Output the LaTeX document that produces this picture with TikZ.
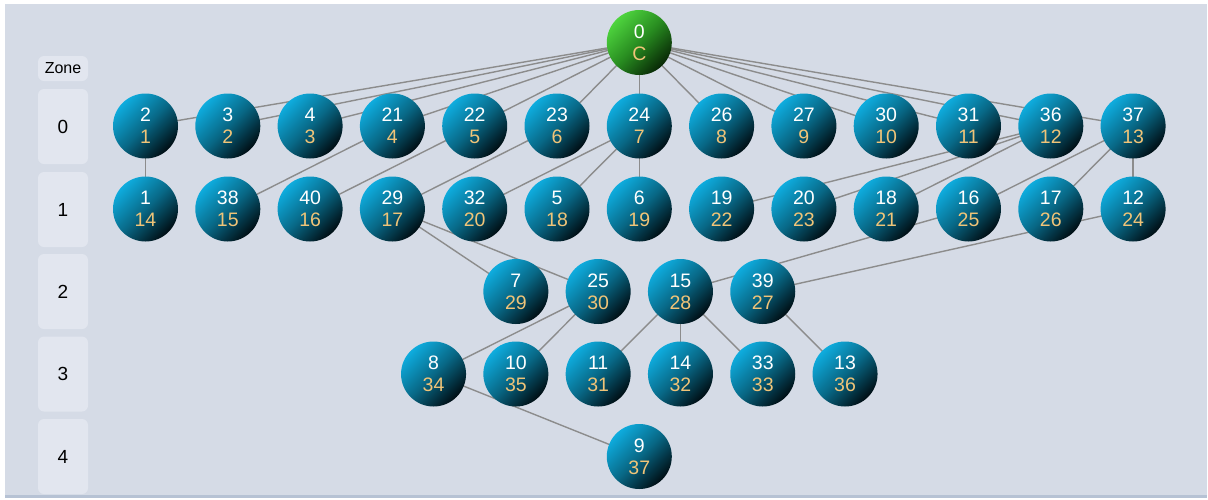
\documentclass[tikz,border=0pt]{standalone}
\usepackage{fontspec}
\setmainfont{Liberation Sans}
\usetikzlibrary{backgrounds}

\definecolor{panelbg}{RGB}{213,219,230}
\definecolor{paneledge}{RGB}{182,194,212}
\definecolor{zonebg}{RGB}{226,230,239}
\definecolor{edgegray}{RGB}{140,140,140}
\definecolor{numorange}{RGB}{240,196,120}
\definecolor{ballhi}{RGB}{14,172,222}
\definecolor{ballmid}{RGB}{8,104,134}
\definecolor{balllo}{RGB}{0,14,20}
\definecolor{roothi}{RGB}{78,212,62}
\definecolor{rootmid}{RGB}{40,140,32}
\definecolor{rootlo}{RGB}{8,40,6}

\tikzset{
  ball/.style={circle, minimum size=65pt, inner sep=0pt, shade,
    top color=ballhi, bottom color=balllo, middle color=ballmid, shading angle=45,
    align=center, text=white, font=\fontsize{19.5}{22}\selectfont},
  rootball/.style={ball, top color=roothi, bottom color=rootlo, middle color=rootmid, shading angle=45},
  link/.style={draw=edgegray, line width=1.4pt},
  zonebox/.style={fill=zonebg, rounded corners=6pt, minimum width=50pt, minimum height=75pt,
    inner sep=0pt, text=black, font=\fontsize{19}{19}\selectfont},
  zonehead/.style={fill=zonebg, rounded corners=6pt, minimum width=50pt, minimum height=25pt,
    inner sep=0pt, text=black, font=\fontsize{16}{16}\selectfont}
}

% two-line ball label: white id over orange order number
\newcommand{\bl}[2]{#1\\\textcolor{numorange}{#2}}

\begin{document}
\begin{tikzpicture}[x=1pt,y=-1pt]
\useasboundingbox (0,0) rectangle (1208,499);

\begin{scope}[on background layer]
  \fill[white] (0,0) rectangle (1208,499);
  \fill[panelbg] (5,4) rectangle (1207,495);
  \fill[paneledge] (5,495) rectangle (1207,497.5);
\end{scope}

% zone column
\node[zonehead] (zh) at (63,68.5) {Zone};
\node[zonebox] (z0) at (63,126.5) {0};
\node[zonebox] (z1) at (63,209.5) {1};
\node[zonebox] (z2) at (63,291.5) {2};
\node[zonebox] (z3) at (63,374) {3};
\node[zonebox] (z4) at (63,456.5) {4};

% root
\node[rootball] (n0) at (639.3,42.5) {\bl{0}{C}};

% zone 0
\node[ball] (n2)  at (145.5,126)  {\bl{2}{1}};
\node[ball] (n3)  at (227.8,126)  {\bl{3}{2}};
\node[ball] (n4)  at (310.1,126)  {\bl{4}{3}};
\node[ball] (n21) at (392.4,126)  {\bl{21}{4}};
\node[ball] (n22) at (474.7,126)  {\bl{22}{5}};
\node[ball] (n23) at (557.0,126)  {\bl{23}{6}};
\node[ball] (n24) at (639.3,126)  {\bl{24}{7}};
\node[ball] (n26) at (721.6,126)  {\bl{26}{8}};
\node[ball] (n27) at (803.9,126)  {\bl{27}{9}};
\node[ball] (n30) at (886.2,126)  {\bl{30}{10}};
\node[ball] (n31) at (968.5,126)  {\bl{31}{11}};
\node[ball] (n36) at (1050.8,126) {\bl{36}{12}};
\node[ball] (n37) at (1133.1,126) {\bl{37}{13}};

% zone 1
\node[ball] (n1)  at (145.5,209)  {\bl{1}{14}};
\node[ball] (n38) at (227.8,209)  {\bl{38}{15}};
\node[ball] (n40) at (310.1,209)  {\bl{40}{16}};
\node[ball] (n29) at (392.4,209)  {\bl{29}{17}};
\node[ball] (n32) at (474.7,209)  {\bl{32}{20}};
\node[ball] (n5)  at (557.0,209)  {\bl{5}{18}};
\node[ball] (n6)  at (639.3,209)  {\bl{6}{19}};
\node[ball] (n19) at (721.6,209)  {\bl{19}{22}};
\node[ball] (n20) at (803.9,209)  {\bl{20}{23}};
\node[ball] (n18) at (886.2,209)  {\bl{18}{21}};
\node[ball] (n16) at (968.5,209)  {\bl{16}{25}};
\node[ball] (n17) at (1050.8,209) {\bl{17}{26}};
\node[ball] (n12) at (1133.1,209) {\bl{12}{24}};

% zone 2
\node[ball] (n7)  at (515.85,291.5) {\bl{7}{29}};
\node[ball] (n25) at (598.15,291.5) {\bl{25}{30}};
\node[ball] (n15) at (680.45,291.5) {\bl{15}{28}};
\node[ball] (n39) at (762.75,291.5) {\bl{39}{27}};

% zone 3
\node[ball] (n8)  at (433.55,374) {\bl{8}{34}};
\node[ball] (n10) at (515.85,374) {\bl{10}{35}};
\node[ball] (n11) at (598.15,374) {\bl{11}{31}};
\node[ball] (n14) at (680.45,374) {\bl{14}{32}};
\node[ball] (n33) at (762.75,374) {\bl{33}{33}};
\node[ball] (n13) at (845.05,374) {\bl{13}{36}};

% zone 4
\node[ball] (n9) at (639.3,456.5) {\bl{9}{37}};

% connectors, kept behind the balls
\begin{scope}[on background layer]
  \foreach \t in {n2,n3,n4,n21,n22,n23,n24,n26,n27,n30,n31,n36,n37}
    \draw[link] (n0.center) -- (\t.center);
  \draw[link] (n2.center) -- (n1.center);
  \draw[link] (n21.center) -- (n38.center);
  \draw[link] (n22.center) -- (n40.center);
  \draw[link] (n23.center) -- (n29.center);
  \draw[link] (n24.center) -- (n32.center);
  \draw[link] (n24.center) -- (n5.center);
  \draw[link] (n24.center) -- (n6.center);
  \draw[link] (n36.center) -- (n19.center);
  \draw[link] (n36.center) -- (n20.center);
  \draw[link] (n36.center) -- (n18.center);
  \draw[link] (n37.center) -- (n16.center);
  \draw[link] (n37.center) -- (n17.center);
  \draw[link] (n37.center) -- (n12.center);
  \draw[link] (n29.center) -- (n7.center);
  \draw[link] (n29.center) -- (n25.center);
  \draw[link] (n16.center) -- (n15.center);
  \draw[link] (n12.center) -- (n39.center);
  \draw[link] (n25.center) -- (n8.center);
  \draw[link] (n25.center) -- (n10.center);
  \draw[link] (n15.center) -- (n11.center);
  \draw[link] (n15.center) -- (n14.center);
  \draw[link] (n15.center) -- (n33.center);
  \draw[link] (n39.center) -- (n13.center);
  \draw[link] (n8.center) -- (n9.center);
\end{scope}
\end{tikzpicture}
\end{document}
